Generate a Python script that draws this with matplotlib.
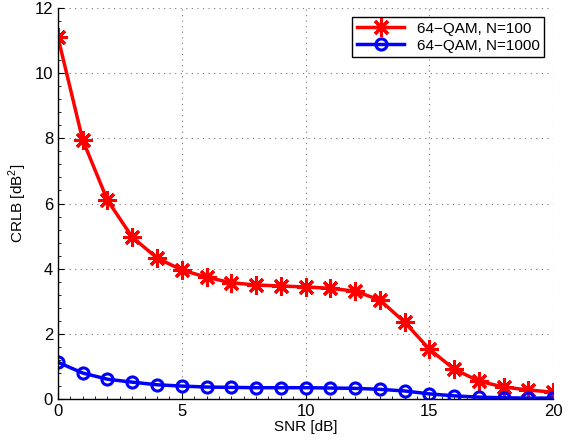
import numpy as np
import matplotlib
matplotlib.use('Agg')
import matplotlib.pyplot as plt
from matplotlib.ticker import MultipleLocator

plt.rcParams['font.family'] = ['Liberation Sans', 'DejaVu Sans']

snr = list(range(0, 21))
crlb_n100 = [11.1, 7.95, 6.1, 4.97, 4.33, 3.96, 3.74, 3.57, 3.5, 3.47, 3.44,
             3.4, 3.31, 3.04, 2.36, 1.53, 0.92, 0.55, 0.37, 0.28, 0.21]
crlb_n1000 = [1.13, 0.8, 0.61, 0.52, 0.44, 0.4, 0.37, 0.36, 0.35, 0.35, 0.35,
              0.34, 0.33, 0.3, 0.25, 0.16, 0.1, 0.06, 0.04, 0.03, 0.03]
labels = ['64\u2212QAM, N=100', '64\u2212QAM, N=1000']

fig = plt.figure(figsize=(5.68, 4.41), dpi=100)
ax = fig.add_axes([0.102, 0.095, 0.872, 0.887])

# matlab style asterisk (8 spokes)
ax.plot(snr, crlb_n100, '-', marker=(8, 2, 0), color='#ff0000', lw=2.5, ms=13,
        mew=2.2, label=labels[0])
ax.plot(snr, crlb_n1000, '-o', color='#0000ff', lw=2.5, ms=8, mew=2.2,
        mfc='none', label=labels[1])

ax.set_xlim(0, 20)
ax.set_ylim(0, 12)
ax.set_xticks([0, 5, 10, 15, 20])
ax.set_yticks([0, 2, 4, 6, 8, 10, 12])
ax.xaxis.set_minor_locator(MultipleLocator(0.5))
ax.yaxis.set_minor_locator(MultipleLocator(0.4))
ax.tick_params(which='both', direction='in', labelsize=12, top=False, right=False)
ax.tick_params(which='major', length=4)
ax.tick_params(which='minor', length=2)
ax.grid(True, linestyle=(0, (1, 4)), color='#777777', lw=0.8)
ax.spines['top'].set_visible(False)
ax.spines['right'].set_visible(False)
for s in ('left', 'bottom'):
    ax.spines[s].set_linewidth(1.0)

ax.set_xlabel('SNR [dB]', fontsize=11, labelpad=1)
ax.set_ylabel('CRLB [dB$^{\\mathregular{2}}$]', fontsize=11, labelpad=4)

leg = ax.legend(loc='upper right', fontsize=11, fancybox=False, framealpha=1,
                edgecolor='black', borderpad=0.3, handlelength=3.1,
                borderaxespad=0.6, labelspacing=0.2)
leg.get_frame().set_linewidth(1.0)

fig.savefig('out.png', dpi=100)
